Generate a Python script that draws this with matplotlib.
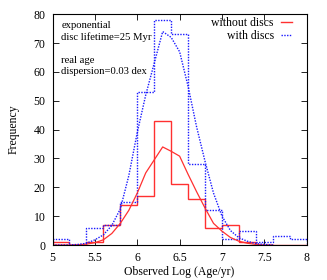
import numpy as np
import matplotlib
matplotlib.use("Agg")
import matplotlib.pyplot as plt

plt.rcParams['font.family'] = ['Liberation Serif', 'DejaVu Serif']
plt.rcParams['font.size'] = 8.5

# Histogram bin edges (width 0.2)
bin_edges = [5.0, 5.2, 5.4, 5.6, 5.8, 6.0, 6.2, 6.4, 6.6, 6.8, 7.0, 7.2, 7.4, 7.6, 7.8, 8.0]
hist_without = [1, 0, 1, 7, 14, 17, 43, 21, 16, 6, 7, 1, 0, 0, 0]
hist_with = [2, 0, 6, 7, 15, 53, 78, 73, 28, 12, 2, 5, 1, 3, 2]

# Smooth curves
curve_x = [5.0, 5.1, 5.2, 5.3, 5.4, 5.5, 5.6, 5.7, 5.8, 5.9, 6.0, 6.1, 6.2, 6.3, 6.4,
           6.5, 6.6, 6.7, 6.8, 6.9, 7.0, 7.1, 7.2, 7.3, 7.4, 7.5, 7.6]
curve_without = [0, 0, 0, 0.1, 0.3, 0.8, 1.8, 4.0, 7.5, 12, 18, 25, 29.5, 34, 32.5,
                 30.8, 24.5, 18.5, 12.8, 7.5, 4.8, 2.6, 1.3, 0.6, 0.2, 0, 0]
curve_with = [0, 0, 0, 0.2, 0.6, 1.8, 3.5, 6.8, 12.5, 24, 39, 52, 63, 74, 72,
              67, 55, 41, 29, 18, 10, 5, 2.5, 1.3, 0.5, 0.2, 0]

red = '#ff3030'
blue = '#1a1aff'

fig = plt.figure(figsize=(3.27, 2.80), dpi=100)
ax = fig.add_axes([0.1606, 0.125, 0.938 - 0.1606, 0.949 - 0.125])

ax.stairs(hist_without, bin_edges, color=red, lw=1.0, label='without discs')
ax.stairs(hist_with, bin_edges, color=blue, lw=1.0, linestyle=(0, (1, 1.0)), label='with discs')
ax.plot(curve_x, curve_without, color=red, lw=0.9)
ax.plot(curve_x, curve_with, color=blue, lw=1.0, linestyle=(0, (1, 1.0)))

ax.set_xlim(5, 8)
ax.set_ylim(0, 80)
ax.set_xticks(np.arange(5, 8.01, 0.5))
ax.set_xticklabels(['5', '5.5', '6', '6.5', '7', '7.5', '8'])
ax.set_yticks(np.arange(0, 81, 10))
ax.tick_params(direction='in', top=True, right=True, length=4, width=0.6, pad=5)
for s in ax.spines.values():
    s.set_linewidth(0.8)

ax.set_xlabel('Observed Log (Age/yr)', labelpad=1.5)
ax.set_ylabel('Frequency', labelpad=10)

inset_lines = [('exponential', 0.951), ('disc lifetime=25 Myr', 0.903),
               ('real age', 0.798), ('dispersion=0.03 dex', 0.750)]
for txt, yy in inset_lines:
    ax.text(0.035, yy, txt, transform=ax.transAxes, va='center', ha='left', fontsize=7.7)

ax.legend(loc='upper right', bbox_to_anchor=(0.954, 1.0), frameon=False,
          markerfirst=False, handlelength=0.95, handletextpad=0.6,
          labelspacing=0.05, borderaxespad=0.0, borderpad=0.25)

fig.savefig('out.png', dpi=100)
